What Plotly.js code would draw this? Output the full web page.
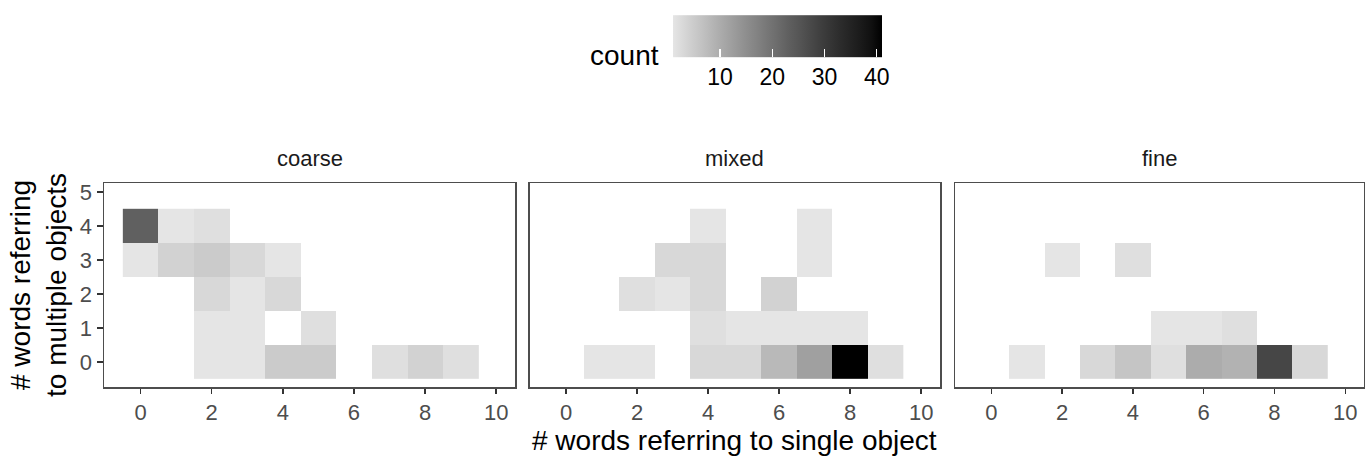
<!DOCTYPE html>
<html>
<head>
<meta charset="utf-8">
<script src="https://cdn.plot.ly/plotly-3.0.1.min.js"></script>
<style>html,body{margin:0;padding:0;background:#fff;}#chart{width:1365px;height:456px;}</style>
</head>
<body>
<div id="chart"></div>
<script>
// ---- data (counts) ----
const panels = ["coarse", "mixed", "fine"];

const coarseX = [0,1,2, 0,1,2,3,4, 2,3,4, 2,3,5, 2,3,4,5,7,8,9];
const coarseY = [4,4,4, 3,3,3,3,3, 2,2,2, 1,1,1, 0,0,0,0,0,0,0];
const coarseN = [23,1,2, 1,4,5,3,1, 3,1,3, 1,1,2, 1,1,5,5,2,4,2];

const mixedX = [4,7, 3,4,7, 2,3,4,6, 4,5,6,7,8, 1,2,4,5,6,7,8,9];
const mixedY = [4,4, 3,3,3, 2,2,2,2, 1,1,1,1,1, 0,0,0,0,0,0,0,0];
const mixedN = [1,1, 3,3,1, 2,1,3,4, 2,1,1,1,1, 1,1,3,3,8,12,41,2];

const fineX = [2,4, 5,6,7, 1,3,4,5,6,7,8,9];
const fineY = [3,3, 1,1,1, 0,0,0,0,0,0,0,0];
const fineN = [1,2, 1,1,2, 1,3,6,2,10,9,28,3];

const xCats = [0,1,2,3,4,5,6,7,8,9];
const yCats = [0,1,2,3,4];
const xTicks = [0,2,4,6,8,10];
const yTicks = [0,1,2,3,4,5];
const legendTicks = [10,20,30,40];
const countMin = 1, countMax = 41;

const xTitle = "# words referring to single object";
const yTitle = "# words referring<br>to multiple objects";
const legendTitle = "count";

// ---- colour scale: grey90 -> black interpolated in Lab ----
function srgbToLin(c){ c/=255; return c<=0.04045? c/12.92 : Math.pow((c+0.055)/1.055,2.4); }
function linToSrgb(v){ const c = v<=0.0031308? 12.92*v : 1.055*Math.pow(v,1/2.4)-0.055; return Math.round(Math.max(0,Math.min(1,c))*255); }
function yToL(Y){ return Y>0.008856? 116*Math.cbrt(Y)-16 : 903.3*Y; }
function lToY(L){ return L>8? Math.pow((L+16)/116,3) : L/903.3; }
const Lhi = yToL(srgbToLin(229));
const colorscale = [];
for (let i=0;i<=20;i++){
  const t=i/20; const g=linToSrgb(lToY(Lhi*(1-t)));
  colorscale.push([t, `rgb(${g},${g},${g})`]);
}

function grid(xs, ys, ns){
  const z = yCats.map(()=>xCats.map(()=>null));
  for (let i=0;i<xs.length;i++) z[yCats.indexOf(ys[i])][xCats.indexOf(xs[i])] = ns[i];
  return z;
}
const data = [
  [coarseX, coarseY, coarseN],
  [mixedX, mixedY, mixedN],
  [fineX, fineY, fineN]
].map((d,i)=>({
  type:'heatmap', x:xCats, y:yCats, z:grid(d[0],d[1],d[2]),
  coloraxis:'coloraxis', xaxis: i===0?'x':'x'+(i+1), yaxis: i===0?'y':'y'+(i+1),
  hoverongaps:false, zsmooth:false
}));

const W=1365, H=456;
const xDomPx = [[104,515],[529.5,940],[955,1364]];
const yDom = [1-387/H, 1-183.3/H];
const font = "Liberation Sans, Arial, sans-serif";

const layout = {
  width:W, height:H, margin:{l:0,r:0,t:0,b:0},
  paper_bgcolor:'#fff', plot_bgcolor:'#fff',
  font:{family:font, color:'#000'},
  showlegend:false,
  coloraxis:{
    colorscale:colorscale, cmin:countMin, cmax:countMax,
    colorbar:{
      orientation:'h', x:777.5/W, xanchor:'center', y:1-57/H, yanchor:'middle',
      len:209, lenmode:'pixels', thickness:42, thicknessmode:'pixels',
      outlinewidth:0, xpad:0, ypad:0,
      tickmode:'array', tickvals:legendTicks, ticktext:legendTicks.map(String),
      ticks:'inside', ticklen:8, tickcolor:'#fff', tickwidth:1.2,
      tickfont:{size:23, color:'#000', family:font}
    }
  },
  annotations:[]
};
panels.forEach((p,i)=>{
  const sfx = i===0?'':String(i+1);
  layout['xaxis'+sfx] = {
    domain:[xDomPx[i][0]/W, xDomPx[i][1]/W], anchor:'y'+sfx,
    range:[-1.03,10.53], tickmode:'array', tickvals:xTicks,
    ticks:'outside', ticklen:5, tickwidth:1.5, tickcolor:'#333',
    showline:true, linecolor:'#4d4d4d', linewidth:1.5, mirror:true,
    showgrid:false, zeroline:false,
    tickfont:{size:22, color:'#4d4d4d', family:font}, fixedrange:true
  };
  layout['yaxis'+sfx] = {
    domain:yDom, anchor:'x'+sfx,
    range:[-0.74,5.25], tickmode:'array', tickvals:yTicks,
    ticks: i===0?'outside':'', ticklen:6, tickwidth:1.5, tickcolor:'#333',
    showticklabels: i===0,
    showline:true, linecolor:'#4d4d4d', linewidth:1.5, mirror:true,
    showgrid:false, zeroline:false,
    tickfont:{size:22, color:'#4d4d4d', family:font}, fixedrange:true
  };
  layout.annotations.push({
    text:p, xref:'paper', yref:'paper',
    x:(xDomPx[i][0]+xDomPx[i][1])/2/W, y:1-159/H, xanchor:'center', yanchor:'middle',
    showarrow:false, font:{size:22, color:'#1a1a1a', family:font}
  });
});
layout.annotations.push({
  text:xTitle, xref:'paper', yref:'paper', x:734/W, y:1-440/H,
  xanchor:'center', yanchor:'middle', showarrow:false, font:{size:28, color:'#000', family:font}
});
layout.annotations.push({
  text:yTitle, xref:'paper', yref:'paper', x:38/W, y:1-285/H, textangle:-90,
  xanchor:'center', yanchor:'middle', showarrow:false, font:{size:28, color:'#000', family:font}
});
layout.annotations.push({
  text:legendTitle, xref:'paper', yref:'paper', x:661/W, y:1-56/H,
  xanchor:'right', yanchor:'middle', showarrow:false, font:{size:28, color:'#000', family:font}
});

Plotly.newPlot('chart', data, layout, {displayModeBar:false, staticPlot:true});
</script>
</body>
</html>
